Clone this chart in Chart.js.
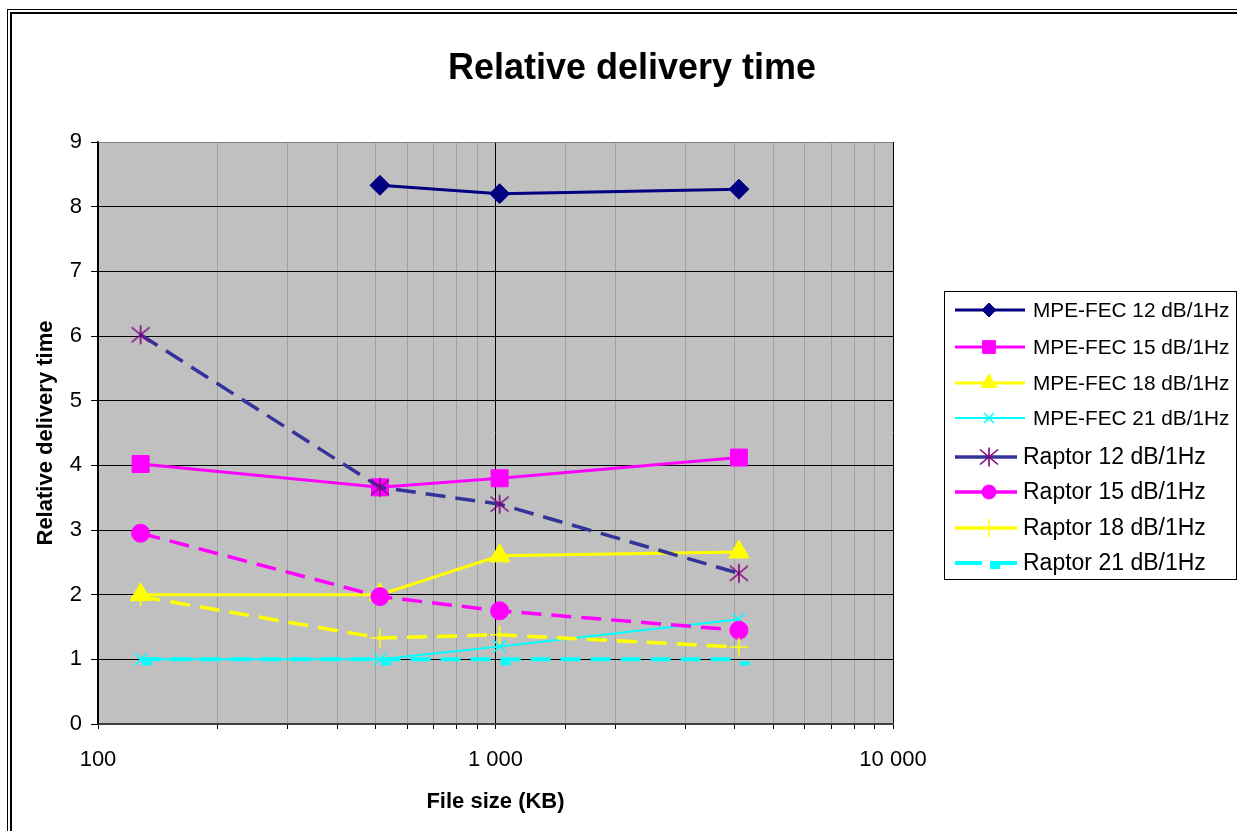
<!DOCTYPE html>
<html><head><meta charset="utf-8">
<script src="https://cdn.jsdelivr.net/npm/chart.js@4/dist/chart.umd.min.js"></script>
<style>
html,body{margin:0;padding:0;background:#fff;overflow:hidden;width:1237px;height:831px;}
#wrap{position:absolute;left:0;top:0;width:1264px;height:831px;}
</style></head><body>
<div id="wrap"><canvas id="c" width="1264" height="831"></canvas></div>
<script>
// ---- data ----
const fileSizes = [128, 512, 1024, 4096];
const mpe12 = [null, 8.33, 8.20, 8.27];
const mpe15 = [4.02, 3.66, 3.80, 4.12];
const mpe18 = [2.00, 2.00, 2.60, 2.66];
const mpe21 = [1.00, 1.00, 1.20, 1.62];
const raptor12 = [6.02, 3.66, 3.40, 2.33];
const raptor15 = [2.95, 1.97, 1.75, 1.45];
const raptor18 = [1.97, 1.33, 1.38, 1.19];
const raptor21 = [1.00, 1.00, 1.00, 1.00];
const seriesNames = ['MPE-FEC 12 dB/1Hz','MPE-FEC 15 dB/1Hz','MPE-FEC 18 dB/1Hz','MPE-FEC 21 dB/1Hz',
  'Raptor 12 dB/1Hz','Raptor 15 dB/1Hz','Raptor 18 dB/1Hz','Raptor 21 dB/1Hz'];
const xTickLabels = {100: '100', 1000: '1 000', 10000: '10 000'};
const yMin = 0, yMax = 9;
const chartTitle = 'Relative delivery time';
const xTitle = 'File size (KB)';
const yTitle = 'Relative delivery time';

const FONT = 'Arial, "Liberation Sans", sans-serif';

// custom marker canvases
function asterisk(){
  const c = document.createElement('canvas'); c.width = 22; c.height = 22;
  const g = c.getContext('2d'); g.strokeStyle = '#800080'; g.lineWidth = 1.6;
  g.beginPath();
  g.moveTo(2,3.5); g.lineTo(20,18.5);
  g.moveTo(20,3.5); g.lineTo(2,18.5);
  g.moveTo(11,1.5); g.lineTo(11,20.5);
  g.stroke(); return c;
}
function dashMark(){
  const c = document.createElement('canvas'); c.width = 24; c.height = 16;
  const g = c.getContext('2d'); g.fillStyle = '#00FFFF';
  g.fillRect(13, 10, 10, 4); return c;
}
const astImg = asterisk(), dashImg = dashMark();

const seriesData = [mpe12, mpe15, mpe18, mpe21, raptor12, raptor15, raptor18, raptor21];
const styles = [
  {color:'#000080', width:3, dash:[], ps:'rectRot', r:10, bw:1, fill:'#000080', pcol:'#000080', lr:7},
  {color:'#FF00FF', width:3, dash:[], ps:'rect', r:12, bw:1, fill:'#FF00FF', pcol:'#FF00FF', lr:9},
  {color:'#FFFF00', width:3, dash:[], ps:'triangle', r:12, bw:1, fill:'#FFFF00', pcol:'#FFFF00', lr:9},
  {color:'#00FFFF', width:2, dash:[], ps:'crossRot', r:8.5, bw:1.5, fill:'#00FFFF', pcol:'#00FFFF', lr:7},
  {color:'#333399', width:3.5, dash:[20,10], ps:astImg, r:9, bw:1, fill:'#800080', pcol:'#800080', lr:9},
  {color:'#FF00FF', width:3.5, dash:[20,10], ps:'circle', r:9, bw:1, fill:'#FF00FF', pcol:'#FF00FF', lr:7},
  {color:'#FFFF00', width:3.5, dash:[20,10], ps:'cross', r:9.5, bw:1.5, fill:'#FFFF00', pcol:'#FFFF00', lr:9},
  {color:'#00FFFF', width:4, dash:[20,10], ps:dashImg, r:6, bw:1, fill:'#00FFFF', pcol:'#00FFFF', lr:6}
];

const datasets = seriesData.map((arr, i) => ({
  label: seriesNames[i],
  data: fileSizes.map((x, j) => ({x: x, y: arr[j]})),
  borderColor: styles[i].color,
  borderWidth: styles[i].width,
  borderDash: styles[i].dash,
  pointStyle: styles[i].ps,
  pointRadius: styles[i].r,
  pointHoverRadius: styles[i].r,
  pointBackgroundColor: styles[i].fill,
  pointBorderColor: styles[i].pcol,
  pointBorderWidth: styles[i].bw,
  tension: 0,
  fill: false,
  spanGaps: false,
  order: seriesData.length - i
}));

function isPow10(v){ const l = Math.log10(v); return Math.abs(l - Math.round(l)) < 1e-9; }

const bgPlugin = {
  id: 'bg',
  beforeDraw(chart){
    const ctx = chart.ctx, a = chart.chartArea;
    ctx.save();
    ctx.fillStyle = '#fff'; ctx.fillRect(0,0,chart.width,chart.height);
    ctx.fillStyle = '#C0C0C0'; ctx.fillRect(a.left, a.top, a.right - a.left, a.bottom - a.top);
    // frame
    ctx.fillStyle = '#000';
    ctx.fillRect(7, 9, 1400, 1); ctx.fillRect(7, 9, 1, 900);
    ctx.fillRect(10, 12, 1400, 2); ctx.fillRect(10, 12, 2, 900);
    ctx.restore();
  },
  afterDraw(chart){
    const ctx = chart.ctx;
    ctx.save();
    // legend box
    ctx.fillStyle = '#fff';
    ctx.fillRect(944, 291, 292, 289);
    ctx.strokeStyle = '#000'; ctx.lineWidth = 1;
    ctx.strokeRect(944.5, 291.5, 292, 288);
    ctx.textBaseline = 'middle'; ctx.textAlign = 'left';
    const ys = [310, 347, 383, 418, 457, 492, 528, 563];
    chart.data.datasets.forEach((ds, i) => {
      const st = styles[i];
      const y = ys[i];
      const isR = i >= 4;
      const x1 = 955, x2 = isR ? 1017 : 1025;
      ctx.save();
      ctx.strokeStyle = st.color; ctx.lineWidth = st.width;
      ctx.setLineDash(i === 7 ? [27, 8] : []);
      ctx.beginPath(); ctx.moveTo(x1, y); ctx.lineTo(x2, y); ctx.stroke();
      ctx.restore();
      ctx.save();
      ctx.fillStyle = st.fill; ctx.strokeStyle = st.pcol; ctx.lineWidth = st.bw;
      if (Chart.helpers && Chart.helpers.drawPoint) {
        Chart.helpers.drawPoint(ctx, {pointStyle: st.ps, radius: st.lr, rotation: 0, borderWidth: st.bw}, 989, y);
      }
      ctx.restore();
      ctx.fillStyle = '#000';
      ctx.font = (isR ? '23px ' : '20.8px ') + FONT;
      ctx.fillText(ds.label, isR ? 1023 : 1033, y + 1);
    });
    ctx.restore();
  }
};

new Chart(document.getElementById('c'), {
  type: 'line',
  data: { datasets: datasets },
  plugins: [bgPlugin],
  options: {
    responsive: false,
    animation: false,
    events: [],
    layout: { padding: 0 },
    plugins: {
      legend: { display: false },
      tooltip: { enabled: false },
      title: {
        display: true, text: chartTitle, color: '#000',
        font: { family: FONT, size: 36, weight: 'bold' },
        padding: { top: 47.4, bottom: 51.4 }
      }
    },
    scales: {
      x: {
        type: 'logarithmic', position: 'bottom', min: 100, max: 10000,
        afterFit(s){ s.height = 107; },
        ticks: {
          autoSkip: false, maxRotation: 0, minRotation: 0, padding: 18, color: '#000',
          font: { family: FONT, size: 22 },
          callback: (v) => { const k = Math.round(v); return xTickLabels[k] !== undefined ? xTickLabels[k] : ''; }
        },
        grid: {
          color: (c) => (c.tick && isPow10(c.tick.value)) ? '#000' : '#A0A0A0',
          lineWidth: 1, tickLength: 5, tickColor: '#000'
        },
        border: { color: '#404040', width: 2 },
        title: {
          display: true, text: xTitle, color: '#000',
          font: { family: FONT, size: 22, weight: 'bold' },
          padding: { top: 0, bottom: 15.8 }
        }
      },
      y: {
        type: 'linear', position: 'left', min: yMin, max: yMax,
        afterFit(s){ s.width = 98; },
        ticks: { stepSize: 1, padding: 9, color: '#000', font: { family: FONT, size: 22 } },
        grid: {
          color: (c) => (c.tick && c.tick.value === yMax) ? '#808080' : '#000',
          lineWidth: 1, tickLength: 7, tickColor: '#000'
        },
        border: { color: '#000', width: 1.5 },
        title: {
          display: true, text: yTitle, color: '#000',
          font: { family: FONT, size: 22, weight: 'bold' },
          padding: { top: 32.8, bottom: 0 }
        }
      },
      y2: {
        type: 'linear', position: 'right', display: true,
        afterFit(s){ s.width = 371; },
        grid: { display: false, drawTicks: false },
        ticks: { display: false },
        border: { display: false }
      }
    }
  }
});
</script>
</body></html>
